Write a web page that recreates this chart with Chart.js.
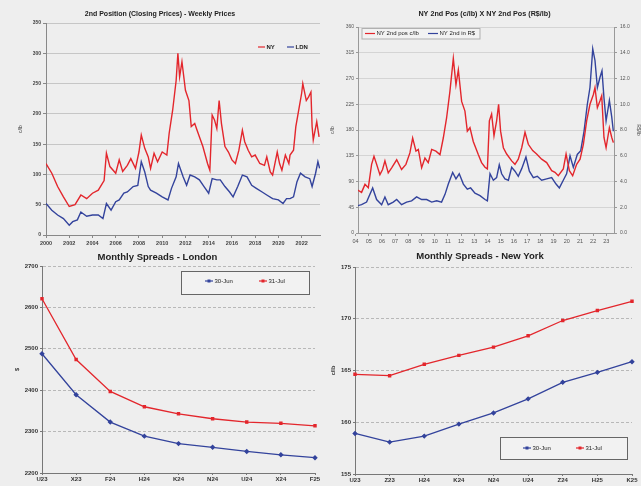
<!DOCTYPE html>
<html>
<head>
<meta charset="utf-8">
<script src="https://cdn.jsdelivr.net/npm/chart.js@4.4.1/dist/chart.umd.min.js"></script>
<style>
  body { margin: 0; background: #eeeeee; width: 641px; height: 486px; overflow: hidden; position: relative; }
  canvas { position: absolute; }
  #weekly { left: 0; top: 0; }
  #nyReal { left: 328px; top: 0; }
  #spreadLdn { left: 0; top: 248px; }
  #spreadNy { left: 328px; top: 248px; }
</style>
</head>
<body>
<canvas id="weekly" width="340" height="252"></canvas>
<canvas id="nyReal" width="313" height="252"></canvas>
<canvas id="spreadLdn" width="341" height="238"></canvas>
<canvas id="spreadNy" width="313" height="238"></canvas>
<script>
// weekly prices, NY and London (c/lb)
const nyYears = [2000.0, 2000.5, 2001.0, 2001.5, 2002.0, 2002.5, 2003.0, 2003.5, 2004.0, 2004.5, 2005.0, 2005.2, 2005.5, 2006.0, 2006.3, 2006.6, 2007.0, 2007.3, 2007.7, 2008.0, 2008.2, 2008.5, 2008.8, 2009.0, 2009.3, 2009.6, 2010.0, 2010.4, 2010.6, 2010.9, 2011.2, 2011.35, 2011.5, 2011.7, 2012.0, 2012.3, 2012.5, 2012.8, 2013.0, 2013.5, 2013.9, 2014.1, 2014.3, 2014.5, 2014.7, 2014.9, 2015.1, 2015.4, 2015.7, 2016.0, 2016.3, 2016.6, 2016.9, 2017.1, 2017.4, 2017.7, 2018.0, 2018.4, 2018.8, 2019.0, 2019.3, 2019.5, 2019.9, 2020.1, 2020.3, 2020.6, 2020.9, 2021.0, 2021.3, 2021.5, 2021.8, 2022.0, 2022.1, 2022.4, 2022.6, 2022.8, 2022.9, 2023.0, 2023.3, 2023.5];
const nyCents = [118, 102, 80, 63, 47, 50, 66, 60, 69, 74, 90, 135, 113, 102, 124, 105, 115, 126, 110, 137, 165, 143, 129, 110, 135, 121, 137, 132, 168, 206, 255, 300, 261, 286, 239, 222, 179, 184, 173, 146, 118, 107, 198, 190, 176, 222, 184, 146, 137, 124, 118, 140, 173, 154, 140, 129, 132, 118, 115, 129, 104, 99, 137, 118, 107, 132, 118, 132, 140, 179, 212, 234, 250, 222, 228, 236, 179, 157, 187, 162];
const ldnYears = [2000.0, 2000.5, 2001.0, 2001.5, 2002.0, 2002.3, 2002.7, 2003.0, 2003.5, 2004.0, 2004.5, 2004.9, 2005.2, 2005.6, 2006.0, 2006.3, 2006.7, 2007.0, 2007.5, 2007.9, 2008.2, 2008.5, 2008.8, 2009.0, 2009.5, 2010.0, 2010.5, 2010.8, 2011.2, 2011.4, 2011.8, 2012.1, 2012.4, 2012.8, 2013.2, 2013.6, 2014.0, 2014.3, 2014.7, 2015.0, 2015.4, 2015.8, 2016.1, 2016.5, 2016.9, 2017.3, 2017.7, 2018.1, 2018.6, 2019.0, 2019.5, 2020.0, 2020.4, 2020.7, 2021.0, 2021.3, 2021.6, 2021.9, 2022.3, 2022.7, 2022.9, 2023.2, 2023.4, 2023.55];
const ldnCents = [52, 41, 33, 27, 16, 22, 25, 38, 31, 33, 33, 27, 52, 41, 55, 58, 69, 71, 80, 82, 121, 104, 80, 74, 69, 63, 58, 77, 96, 118, 96, 82, 99, 96, 91, 80, 69, 93, 91, 91, 80, 71, 63, 80, 99, 96, 82, 77, 71, 66, 60, 58, 52, 60, 60, 63, 88, 102, 96, 93, 80, 102, 121, 110];
const weeklyTicks = [2000, 2002, 2004, 2006, 2008, 2010, 2012, 2014, 2016, 2018, 2020, 2022];

// NY 2nd position in c/lb and in R$/lb
const nyPosYears = [2004.09, 2004.46, 2004.72, 2004.97, 2005.22, 2005.40, 2005.60, 2005.85, 2006.05, 2006.23, 2006.48, 2006.74, 2007.12, 2007.49, 2007.82, 2008.12, 2008.33, 2008.58, 2008.76, 2009.01, 2009.26, 2009.51, 2009.77, 2010.09, 2010.40, 2010.65, 2010.90, 2011.15, 2011.41, 2011.61, 2011.79, 2012.04, 2012.29, 2012.47, 2012.67, 2012.92, 2013.30, 2013.55, 2013.81, 2013.99, 2014.14, 2014.31, 2014.49, 2014.69, 2014.84, 2014.99, 2015.20, 2015.45, 2015.83, 2016.08, 2016.33, 2016.59, 2016.84, 2017.09, 2017.42, 2017.72, 2018.10, 2018.48, 2018.86, 2019.11, 2019.36, 2019.74, 2019.95, 2020.20, 2020.45, 2020.75, 2021.01, 2021.26, 2021.51, 2021.76, 2022.02, 2022.14, 2022.32, 2022.52, 2022.65, 2022.82, 2022.98, 2023.23, 2023.41, 2023.53];
const nyPosCents = [76, 71, 85, 79, 120, 134, 120, 102, 111, 126, 105, 114, 128, 111, 120, 140, 166, 143, 146, 114, 131, 123, 146, 143, 137, 166, 201, 247, 305, 259, 285, 230, 213, 178, 184, 160, 137, 123, 115, 112, 196, 208, 170, 196, 225, 178, 149, 138, 126, 120, 129, 149, 176, 155, 144, 138, 129, 123, 109, 106, 100, 112, 138, 109, 100, 120, 129, 155, 196, 225, 242, 254, 219, 231, 240, 167, 149, 184, 167, 158];
const nyRealYears = [2004.09, 2004.46, 2004.84, 2005.30, 2005.60, 2005.98, 2006.23, 2006.48, 2006.86, 2007.12, 2007.49, 2007.87, 2008.25, 2008.63, 2009.01, 2009.39, 2009.77, 2010.15, 2010.52, 2010.78, 2011.03, 2011.36, 2011.61, 2011.86, 2012.17, 2012.47, 2012.72, 2013.05, 2013.43, 2013.81, 2013.99, 2014.19, 2014.44, 2014.69, 2014.89, 2015.07, 2015.32, 2015.58, 2015.83, 2016.08, 2016.33, 2016.59, 2016.91, 2017.17, 2017.47, 2017.77, 2018.10, 2018.48, 2018.86, 2019.19, 2019.44, 2019.74, 2019.99, 2020.25, 2020.50, 2020.80, 2021.06, 2021.31, 2021.56, 2021.76, 2021.97, 2022.14, 2022.32, 2022.52, 2022.67, 2022.82, 2022.98, 2023.23, 2023.41, 2023.53];
const nyReais = [2.1, 2.2, 2.4, 3.5, 2.6, 2.2, 2.8, 2.2, 2.4, 2.6, 2.2, 2.4, 2.5, 2.8, 2.6, 2.6, 2.4, 2.5, 2.4, 3.0, 3.8, 4.7, 4.2, 4.6, 3.8, 3.4, 3.5, 3.1, 2.9, 2.6, 2.5, 4.6, 4.1, 4.3, 5.3, 4.6, 4.2, 4.1, 5.1, 4.8, 4.4, 5.0, 5.9, 4.8, 4.3, 4.4, 4.1, 4.2, 4.3, 3.8, 3.5, 4.1, 4.6, 6.0, 5.1, 6.1, 6.4, 7.9, 10.0, 11.3, 14.3, 13.4, 11.3, 12.1, 12.6, 10.5, 8.7, 10.3, 9.0, 7.9];
const nyRealTicks = [2004, 2005, 2006, 2007, 2008, 2009, 2010, 2011, 2012, 2013, 2014, 2015, 2016, 2017, 2018, 2019, 2020, 2021, 2022, 2023];

// monthly spreads
const ldnMonths = ['U23', 'X23', 'F24', 'H24', 'K24', 'N24', 'U24', 'X24', 'F25'];
const ldnJun = [2488, 2389, 2323, 2289, 2271, 2262, 2252, 2244, 2237];
const ldnJul = [2621, 2474, 2397, 2360, 2343, 2331, 2323, 2320, 2314];
const nyMonths = ['U23', 'Z23', 'H24', 'K24', 'N24', 'U24', 'Z24', 'H25', 'K25'];
const nyJun = [158.92, 158.08, 158.66, 159.82, 160.9, 162.26, 163.86, 164.82, 165.85];
const nyJul = [164.63, 164.5, 165.6, 166.46, 167.26, 168.35, 169.83, 170.79, 171.69];

const RED = '#e3262c';
const BLUE = '#33439c';
Chart.defaults.font.family = "'Liberation Sans', Arial, sans-serif";
Chart.defaults.color = '#333';

function pairs(xs, ys) {
    return xs.map((x, i) => ({ x: x, y: ys[i] }));
}

// little legend, optionally inside a framed box
const frameLegend = {
    id: 'frameLegend',
    afterDraw(chart, args, opts) {
        if (!opts.items) return;
        const ctx = chart.ctx;
        ctx.save();
        if (opts.frame) {
            ctx.fillStyle = '#f2f2f2';
            ctx.fillRect(opts.frame[0], opts.frame[1], opts.frame[2], opts.frame[3]);
            ctx.strokeStyle = opts.frameColor;
            ctx.lineWidth = 1;
            ctx.strokeRect(opts.frame[0] + 0.5, opts.frame[1] + 0.5, opts.frame[2], opts.frame[3]);
        }
        ctx.font = opts.font;
        ctx.textBaseline = 'middle';
        opts.items.forEach((pos, i) => {
            const ds = chart.data.datasets[i];
            ctx.strokeStyle = ds.borderColor;
            ctx.lineWidth = 1.2;
            ctx.beginPath();
            ctx.moveTo(pos[0], pos[1]);
            ctx.lineTo(pos[0] + opts.lineLen, pos[1]);
            ctx.stroke();
            if (opts.marker) {
                ctx.fillStyle = ds.borderColor;
                ctx.fillRect(pos[0] + opts.lineLen / 2 - 1.5, pos[1] - 1.5, 3, 3);
            }
            ctx.fillStyle = '#222';
            ctx.fillText(ds.label, pos[0] + opts.lineLen + 1.5, pos[1]);
        });
        ctx.restore();
    }
};

/** top left: weekly prices */
new Chart(document.getElementById('weekly'), {
    type: 'line',
    data: {
        datasets: [
            { label: 'NY', data: pairs(nyYears, nyCents), borderColor: RED, borderWidth: 1.4, pointRadius: 0 },
            { label: 'LDN', data: pairs(ldnYears, ldnCents), borderColor: BLUE, borderWidth: 1.4, pointRadius: 0 }
        ]
    },
    options: {
        responsive: false,
        animation: false,
        layout: { padding: { left: 0, right: 20, top: 0, bottom: 0 } },
        plugins: {
            legend: { display: false },
            tooltip: { enabled: false },
            title: {
                display: true,
                text: '2nd Position (Closing Prices) - Weekly Prices',
                font: { size: 7, weight: 'bold' },
                color: '#222',
                padding: { top: 9.5, bottom: 5.1 }
            },
            frameLegend: { items: [[258, 47], [287, 47]], lineLen: 7, font: 'bold 6px "Liberation Sans"' }
        },
        scales: {
            x: {
                type: 'linear',
                min: 2000,
                max: 2023.58,
                afterBuildTicks: s => { s.ticks = weeklyTicks.map(v => ({ value: v })); },
                ticks: { callback: v => String(v), font: { size: 5.5, weight: 'bold' }, color: '#444', padding: 2, maxRotation: 0, autoSkip: false },
                grid: { drawOnChartArea: false, tickLength: 3, tickColor: '#888' },
                border: { color: '#888' },
                afterFit: s => { s.height = 17; }
            },
            y: {
                min: 0,
                max: 350,
                ticks: { stepSize: 50, font: { size: 5, weight: 'bold' }, color: '#444', padding: 2 },
                grid: { color: '#c6c6c6', tickLength: 3, tickColor: '#888' },
                border: { color: '#888' },
                title: { display: true, text: 'c/lb', font: { size: 5 }, color: '#444', padding: { top: 18, bottom: 0 } },
                afterFit: s => { s.width = 46; }
            }
        }
    },
    plugins: [frameLegend]
});

/** top right: NY in c/lb and R$/lb */
new Chart(document.getElementById('nyReal'), {
    type: 'line',
    data: {
        datasets: [
            { label: 'NY 2nd pos c/lb', data: pairs(nyPosYears, nyPosCents), borderColor: RED, borderWidth: 1.4, pointRadius: 0, yAxisID: 'y' },
            { label: 'NY 2nd in R$', data: pairs(nyRealYears, nyReais), borderColor: BLUE, borderWidth: 1.4, pointRadius: 0, yAxisID: 'y1' }
        ]
    },
    options: {
        responsive: false,
        animation: false,
        layout: { padding: 0 },
        plugins: {
            legend: { display: false },
            tooltip: { enabled: false },
            title: {
                display: true,
                text: 'NY 2nd Pos (c/lb) X NY 2nd Pos (R$/lb)',
                font: { size: 7.2, weight: 'bold' },
                color: '#222',
                padding: { top: 9.5, bottom: 8.86 }
            },
            frameLegend: { items: [[37, 33.5], [100, 33.5]], lineLen: 10, font: '6px "Liberation Sans"', frame: [33.5, 28, 118, 10.5], frameColor: '#b0b0b0' }
        },
        scales: {
            x: {
                type: 'linear',
                min: 2004.19,
                max: 2023.58,
                afterBuildTicks: s => { s.ticks = nyRealTicks.map(v => ({ value: v })); },
                ticks: { callback: v => String(v).slice(2), font: { size: 5.5 }, color: '#555', padding: 2, maxRotation: 0, autoSkip: false },
                grid: { drawOnChartArea: false, tickLength: 3, tickColor: '#999' },
                border: { color: '#999' },
                afterFit: s => { s.height = 19; }
            },
            y: {
                position: 'left',
                min: 0,
                max: 360,
                ticks: { stepSize: 45, font: { size: 5 }, color: '#555', padding: 2 },
                grid: { color: '#d4d4d4', tickLength: 2, tickColor: '#999' },
                border: { color: '#999' },
                title: { display: true, text: 'c/lb', font: { size: 5 }, color: '#555', padding: { top: 2, bottom: 0 } },
                afterFit: s => { s.width = 30; }
            },
            y1: {
                position: 'right',
                min: 0,
                max: 16,
                ticks: { stepSize: 2, callback: v => v.toFixed(1), font: { size: 5 }, color: '#555', padding: 3 },
                grid: { drawOnChartArea: false, tickLength: 3, tickColor: '#999' },
                border: { color: '#999' },
                title: { display: true, text: 'R$/lb', font: { size: 5 }, color: '#555', padding: { top: 0, bottom: 2 } },
                afterFit: s => { s.width = 27; }
            }
        }
    },
    plugins: [frameLegend]
});

/** bottom: monthly spreads */
function spreadChart(id, title, months, jun, jul, yOpts) {
    new Chart(document.getElementById(id), {
        type: 'line',
        data: {
            labels: months,
            datasets: [
                { label: '30-Jun', data: jun, borderColor: BLUE, backgroundColor: BLUE, borderWidth: 1.3, pointRadius: 1.8, pointStyle: 'rectRot' },
                { label: '31-Jul', data: jul, borderColor: RED, backgroundColor: RED, borderWidth: 1.3, pointRadius: 1.5, pointStyle: 'rect' }
            ]
        },
        options: {
            responsive: false,
            animation: false,
            layout: { padding: { left: 0, right: yOpts.right, top: 0, bottom: 0 } },
            plugins: {
                legend: { display: false },
                tooltip: { enabled: false },
                title: {
                    display: true,
                    text: title,
                    font: { size: 9.5, weight: 'bold' },
                    color: '#222',
                    padding: yOpts.titlePad
                },
                frameLegend: yOpts.legend
            },
            scales: {
                x: {
                    offset: false,
                    ticks: { font: { size: 6, weight: 'bold' }, color: '#333', padding: 1, maxRotation: 0, autoSkip: false },
                    grid: { drawOnChartArea: false, tickLength: 2, tickColor: '#777' },
                    border: { color: '#777' },
                    afterFit: s => { s.height = yOpts.xHeight; }
                },
                y: {
                    min: yOpts.min,
                    max: yOpts.max,
                    ticks: { stepSize: yOpts.step, callback: v => String(v), font: { size: 6, weight: 'bold' }, color: '#333', padding: 2 },
                    grid: { color: '#b8b8b8', tickLength: 2, tickColor: '#777' },
                    border: { color: '#777', dash: [3, 2] },
                    title: { display: true, text: yOpts.unit, font: { size: 5.5, weight: 'bold' }, color: '#333', padding: { top: yOpts.unitPad, bottom: 0 } },
                    afterFit: s => { s.width = yOpts.yWidth; }
                }
            }
        },
        plugins: [frameLegend]
    });
}

spreadChart('spreadLdn', 'Monthly Spreads - London', ldnMonths, ldnJun, ldnJul, {
    min: 2200, max: 2700, step: 100, unit: '$', unitPad: 14, yWidth: 42, xHeight: 13, right: 26,
    titlePad: { top: 4, bottom: 2.6 },
    legend: { items: [[205, 33], [259, 33]], lineLen: 8, marker: true, font: '6px "Liberation Sans"', frame: [181, 23, 128, 23], frameColor: '#666' }
});

spreadChart('spreadNy', 'Monthly Spreads - New York', nyMonths, nyJun, nyJul, {
    min: 155, max: 175, step: 5, unit: 'c/lb', unitPad: 2, yWidth: 27, xHeight: 12, right: 9,
    titlePad: { top: 3, bottom: 4.6 },
    legend: { items: [[195, 200], [248, 200]], lineLen: 8, marker: true, font: '6px "Liberation Sans"', frame: [172, 189, 127, 22], frameColor: '#666' }
});
</script>
</body>
</html>
